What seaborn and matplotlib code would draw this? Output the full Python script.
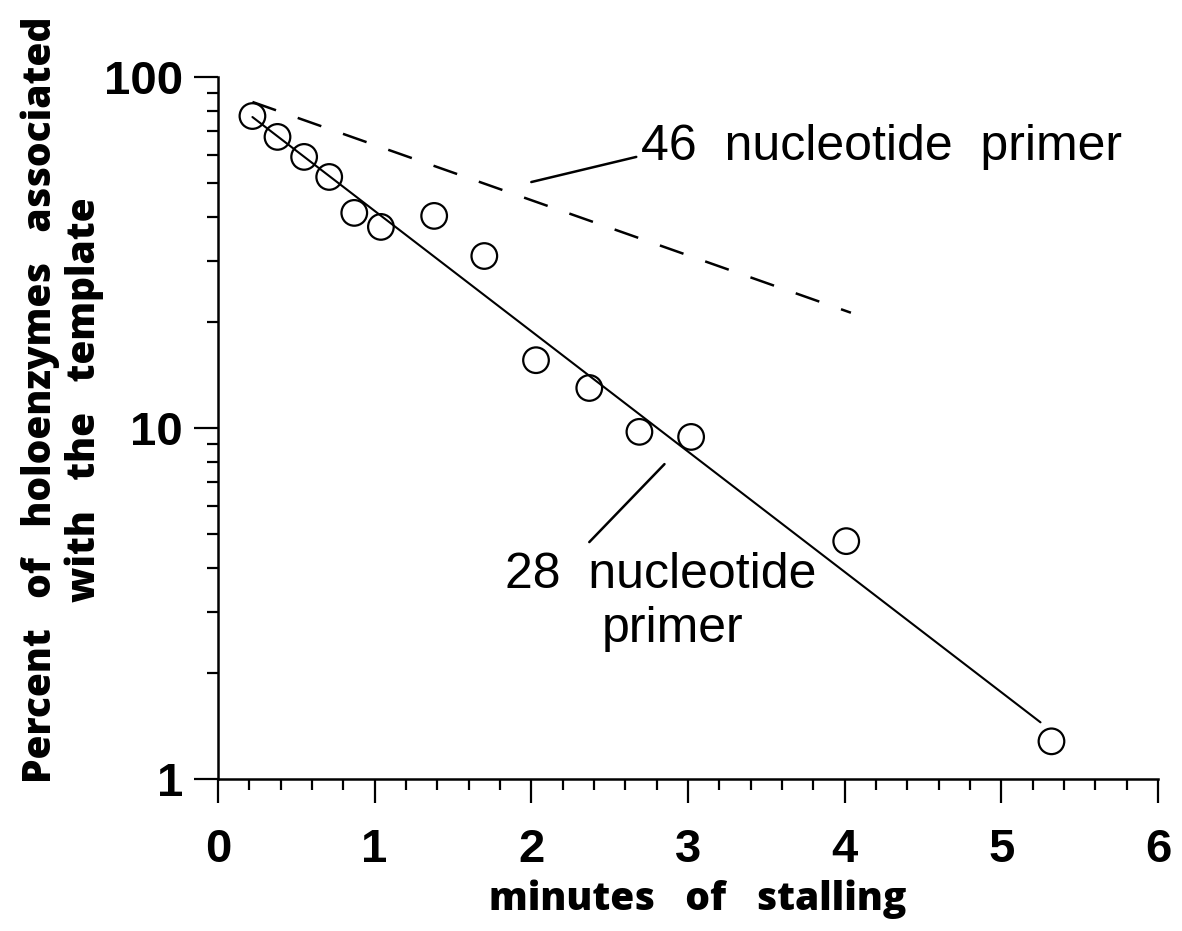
import matplotlib
matplotlib.use("Agg")
import matplotlib.pyplot as plt
import seaborn as sns
import pandas as pd
from matplotlib.ticker import FixedLocator, MultipleLocator, LogLocator, NullFormatter, FixedFormatter

# Holoenzyme retention on the template during a stall (28 nt primer)
minutes = [0.22, 0.38, 0.55, 0.71, 0.87, 1.04, 1.38, 1.70, 2.03, 2.37, 2.69, 3.02, 4.01, 5.32]
percent_bound = [77.4, 67.5, 59.2, 51.9, 41.0, 37.4, 40.2, 30.9, 15.6, 13.0, 9.75, 9.43, 4.76, 1.28]

# Exponential decay fits (straight lines on the log axis)
fit28_minutes = [0.22, 5.25]
fit28_percent = [76.9, 1.45]
fit46_minutes = [0.22, 4.04]
fit46_percent = [84.9, 21.3]

x_ticks = [0, 1, 2, 3, 4, 5, 6]
x_tick_labels = ["0", "1", "2", "3", "4", "5", "6"]
y_ticks = [1, 10, 100]
y_tick_labels = ["1", "10", "100"]

sns.set_theme(style="ticks")
plt.rcParams["font.family"] = ["Liberation Sans", "DejaVu Sans"]

fig = plt.figure(figsize=(11.82, 9.31), dpi=100)
ax = fig.add_axes([0.1844, 0.1633, 0.7953, 0.754])

points = pd.DataFrame({"minutes": minutes, "percent": percent_bound})
sns.scatterplot(data=points, x="minutes", y="percent", ax=ax, marker="o", s=340,
                facecolors="none", edgecolor="black", linewidth=1.6, zorder=3)

sns.lineplot(x=fit28_minutes, y=fit28_percent, ax=ax, color="black", linewidth=1.5)
sns.lineplot(x=fit46_minutes, y=fit46_percent, ax=ax, color="black", linewidth=1.8,
             linestyle=(0, (10, 9.2)))

ax.set_yscale("log")
ax.set_xlim(0, 6)
ax.set_ylim(1, 100)

for side in ("top", "right"):
    ax.spines[side].set_visible(False)
for side in ("left", "bottom"):
    ax.spines[side].set_linewidth(1.8)
    ax.spines[side].set_color("black")

ax.xaxis.set_major_locator(FixedLocator(x_ticks))
ax.xaxis.set_major_formatter(FixedFormatter(x_tick_labels))
ax.xaxis.set_minor_locator(MultipleLocator(0.2))
ax.yaxis.set_major_locator(FixedLocator(y_ticks))
ax.yaxis.set_major_formatter(FixedFormatter(y_tick_labels))
ax.yaxis.set_minor_locator(LogLocator(base=10, subs=[2, 3, 4, 5, 6, 7, 8, 9]))
ax.yaxis.set_minor_formatter(NullFormatter())

ax.tick_params(axis="both", which="major", direction="out", length=17, width=1.6,
               color="black", labelsize=34, labelcolor="black")
ax.tick_params(axis="both", which="minor", direction="out", length=8, width=1.6, color="black")
ax.tick_params(axis="x", which="major", pad=18)
ax.tick_params(axis="y", which="major", pad=8)
for lbl in ax.get_xticklabels() + ax.get_yticklabels():
    lbl.set_fontweight("bold")

label_font = dict(family=["Open Sans", "Liberation Sans", "DejaVu Sans"], weight=800, size=28,
                  color="black")
ax.set_xlabel("minutes   of   stalling", fontdict=label_font)
ax.xaxis.set_label_coords(0.51, -0.143)
ax.set_ylabel("Percent   of   holoenzymes   associated\nwith   the   template",
              fontdict=label_font, linespacing=1.15, multialignment="center")
ax.yaxis.set_label_coords(-0.121, 0.54)

# Annotations for the two primer lengths
ann_size = 36
ax.annotate("", xy=(2.00, 50.2), xytext=(2.67, 59.2),
            arrowprops=dict(arrowstyle="-", color="black", lw=1.8, shrinkA=0, shrinkB=0))
ax.text(2.70, 58.0, "46  nucleotide  primer", fontsize=ann_size, color="black",
        va="baseline", ha="left")

ax.annotate("", xy=(2.37, 4.73), xytext=(2.85, 7.89),
            arrowprops=dict(arrowstyle="-", color="black", lw=1.8, shrinkA=0, shrinkB=0))
ax.text(1.83, 3.50, "28  nucleotide", fontsize=ann_size, color="black", va="baseline", ha="left")
ax.text(2.45, 2.46, "primer", fontsize=ann_size, color="black", va="baseline", ha="left")

fig.savefig("out.png", dpi=100, facecolor="white")
